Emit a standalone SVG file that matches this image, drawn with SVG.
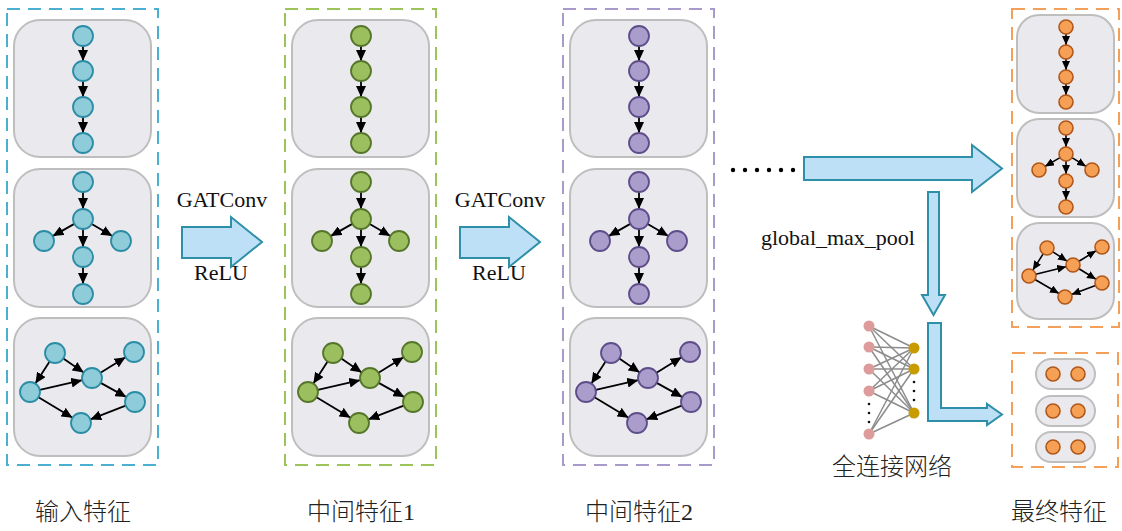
<svg xmlns="http://www.w3.org/2000/svg" xmlns:xlink="http://www.w3.org/1999/xlink" width="1122" height="531" viewBox="0 0 1122 531">
<style>
.panel{fill:#EAE9EE;stroke:#BEBEBE;stroke-width:2}
.dash{fill:none;stroke-width:2;stroke-dasharray:13 8}
.edge{stroke:#000;stroke-width:1.8;fill:none;marker-end:url(#ah)}
.edge2{stroke:#000;stroke-width:1.6;fill:none;marker-end:url(#ah2)}
.blue{fill:#8FCCDA;stroke:#2B8DA5;stroke-width:1.8}
.green{fill:#9BBF5E;stroke:#55762A;stroke-width:1.8}
.purple{fill:#AB9DCB;stroke:#5D4E8A;stroke-width:1.8}
.orange{fill:#F6A055;stroke:#B0571A;stroke-width:1.6}
.arrow{fill:#BDE0F7;stroke:#2E8FA8;stroke-width:2;stroke-linejoin:miter}
.lat{font-family:"Liberation Serif",serif;font-size:22px;fill:#111;text-anchor:middle}
.cjk{font-family:"Liberation Serif","Noto Sans CJK SC",sans-serif;font-size:24px;font-weight:300;fill:#222;text-anchor:middle}
.nn{stroke:#8C8C8C;stroke-width:1.5}
</style>
<defs>
<marker id="ah" markerUnits="userSpaceOnUse" markerWidth="11" markerHeight="10" refX="11" refY="5" orient="auto"><path d="M0,0 L11,5 L0,10 z" fill="#000"/></marker>
<marker id="ah2" markerUnits="userSpaceOnUse" markerWidth="9" markerHeight="8" refX="9" refY="4" orient="auto"><path d="M0,0 L9,4 L0,8 z" fill="#000"/></marker>
<g id="colNodes">
<circle cx="83" cy="36" r="10"/><circle cx="83" cy="71" r="10"/><circle cx="83" cy="107" r="10"/><circle cx="83" cy="143" r="10"/>
<circle cx="83" cy="182" r="10"/><circle cx="83" cy="219" r="10"/><circle cx="44" cy="241" r="10"/><circle cx="121" cy="241" r="10"/><circle cx="83" cy="257" r="10"/><circle cx="83" cy="294" r="10"/>
<circle cx="55" cy="353" r="10"/><circle cx="134" cy="352" r="10"/><circle cx="92" cy="378" r="10"/><circle cx="30" cy="392" r="10"/><circle cx="135" cy="402" r="10"/><circle cx="81" cy="423" r="10"/>
</g>
<g id="colEdges">
<line class="edge" x1="83" y1="46" x2="83" y2="61"/><line class="edge" x1="83" y1="81" x2="83" y2="97"/><line class="edge" x1="83" y1="117" x2="83" y2="133"/>
<line class="edge" x1="83" y1="192" x2="83" y2="209"/><line class="edge" x1="74.3" y1="223.9" x2="52.7" y2="236.1"/><line class="edge" x1="91.7" y1="223.9" x2="112.3" y2="236.1"/><line class="edge" x1="83" y1="229" x2="83" y2="247"/><line class="edge" x1="83" y1="267" x2="83" y2="284"/>
<line class="edge" x1="49.6" y1="361.4" x2="35.4" y2="383.6"/><line class="edge" x1="63.3" y1="358.6" x2="83.7" y2="372.4"/><line class="edge" x1="39.8" y1="389.8" x2="82.2" y2="380.2"/><line class="edge" x1="100.5" y1="372.7" x2="125.5" y2="357.3"/><line class="edge" x1="100.7" y1="382.9" x2="126.3" y2="397.1"/><line class="edge" x1="38.5" y1="397.2" x2="72.5" y2="417.8"/><line class="edge" x1="125.7" y1="405.6" x2="90.3" y2="419.4"/>
</g>
<g id="colPanels">
<rect class="panel" x="14" y="20" width="137" height="137" rx="26"/>
<rect class="panel" x="14" y="169" width="137" height="138" rx="26"/>
<rect class="panel" x="14" y="318" width="137" height="138" rx="26"/>
</g>
</defs>

<g id="col-input">
<rect class="dash" x="7" y="9" width="151" height="456" stroke="#4AAFD0"/>
<use xlink:href="#colPanels"/>
<use xlink:href="#colEdges"/>
<use xlink:href="#colNodes" class="blue"/>
<text class="cjk" x="83" y="520">输入特征</text>
</g>
<g id="col-mid1" transform="translate(278,0)">
<rect class="dash" x="7" y="9" width="151" height="456" stroke="#9DC45A"/>
<use xlink:href="#colPanels"/>
<use xlink:href="#colEdges"/>
<use xlink:href="#colNodes" class="green"/>
<text class="cjk" x="83" y="520">中间特征1</text>
</g>
<g id="col-mid2" transform="translate(556,0)">
<rect class="dash" x="7" y="9" width="151" height="456" stroke="#A89BC9"/>
<use xlink:href="#colPanels"/>
<use xlink:href="#colEdges"/>
<use xlink:href="#colNodes" class="purple"/>
<text class="cjk" x="83" y="520">中间特征2</text>
</g>

<g id="col-final">
<rect class="dash" x="1012" y="9" width="107" height="318" stroke="#F5A05A"/>
<rect class="panel" x="1017" y="15" width="97" height="98" rx="22"/>
<rect class="panel" x="1017" y="119" width="97" height="98" rx="22"/>
<rect class="panel" x="1017" y="223" width="97" height="96" rx="22"/>
<g id="final-edges">
<line class="edge2" x1="1066" y1="34" x2="1066" y2="45"/><line class="edge2" x1="1066" y1="59" x2="1066" y2="70"/><line class="edge2" x1="1066" y1="84" x2="1066" y2="95"/>
<line class="edge2" x1="1066" y1="135" x2="1066" y2="147"/><line class="edge2" x1="1060" y1="157.6" x2="1045" y2="166.4"/><line class="edge2" x1="1072" y1="157.6" x2="1086" y2="166.4"/><line class="edge2" x1="1066" y1="161" x2="1066" y2="174"/><line class="edge2" x1="1066" y1="188" x2="1066" y2="200"/>
<line class="edge2" x1="1043.2" y1="253.9" x2="1032.8" y2="270.1"/><line class="edge2" x1="1052.9" y1="251.8" x2="1067.1" y2="261.2"/><line class="edge2" x1="1035.8" y1="274.3" x2="1066.2" y2="266.7"/><line class="edge2" x1="1079" y1="261.3" x2="1096" y2="250.7"/><line class="edge2" x1="1079" y1="268.7" x2="1096" y2="279.3"/><line class="edge2" x1="1035" y1="279.5" x2="1059" y2="293.5"/><line class="edge2" x1="1095.5" y1="285.5" x2="1071.5" y2="294.5"/>
</g>
<g class="orange">
<circle cx="1066" cy="27" r="7"/><circle cx="1066" cy="52" r="7"/><circle cx="1066" cy="77" r="7"/><circle cx="1066" cy="102" r="7"/>
<circle cx="1066" cy="128" r="7"/><circle cx="1066" cy="154" r="7"/><circle cx="1039" cy="170" r="7"/><circle cx="1092" cy="170" r="7"/><circle cx="1066" cy="181" r="7"/><circle cx="1066" cy="207" r="7"/>
<circle cx="1047" cy="248" r="7"/><circle cx="1102" cy="247" r="7"/><circle cx="1073" cy="265" r="7"/><circle cx="1029" cy="276" r="7"/><circle cx="1102" cy="283" r="7"/><circle cx="1065" cy="297" r="7"/>
</g>
</g>

<g id="final-vectors">
<rect class="dash" x="1012" y="353" width="106" height="114" stroke="#F5A05A"/>
<rect class="panel" x="1036" y="359" width="59" height="30" rx="15"/>
<rect class="panel" x="1036" y="396" width="59" height="30" rx="15"/>
<rect class="panel" x="1036" y="432" width="59" height="30" rx="15"/>
<g class="orange">
<circle cx="1053" cy="374" r="7"/><circle cx="1078" cy="374" r="7"/>
<circle cx="1053" cy="411" r="7"/><circle cx="1078" cy="411" r="7"/>
<circle cx="1053" cy="447" r="7"/><circle cx="1078" cy="447" r="7"/>
</g>
<text class="cjk" x="1059" y="520">最终特征</text>
</g>

<g id="fc-net">
<g class="nn">
<line x1="869" y1="326" x2="914" y2="348"/><line x1="869" y1="326" x2="914" y2="369"/><line x1="869" y1="326" x2="914" y2="413"/>
<line x1="869" y1="347" x2="914" y2="348"/><line x1="869" y1="347" x2="914" y2="369"/><line x1="869" y1="347" x2="914" y2="413"/>
<line x1="869" y1="369" x2="914" y2="348"/><line x1="869" y1="369" x2="914" y2="369"/><line x1="869" y1="369" x2="914" y2="413"/>
<line x1="869" y1="391" x2="914" y2="348"/><line x1="869" y1="391" x2="914" y2="369"/><line x1="869" y1="391" x2="914" y2="413"/>
<line x1="869" y1="434" x2="914" y2="348"/><line x1="869" y1="434" x2="914" y2="369"/><line x1="869" y1="434" x2="914" y2="413"/>
</g>
<g fill="#DE9B9B">
<circle cx="869" cy="326" r="5.5"/><circle cx="869" cy="347" r="5.5"/><circle cx="869" cy="369" r="5.5"/><circle cx="869" cy="391" r="5.5"/><circle cx="869" cy="434" r="5.5"/>
</g>
<g fill="#C89B00">
<circle cx="914" cy="348" r="5.5"/><circle cx="914" cy="369" r="5.5"/><circle cx="914" cy="413" r="5.5"/>
</g>
<g fill="#111">
<circle cx="869" cy="404" r="1.3"/><circle cx="869" cy="413" r="1.3"/><circle cx="869" cy="422" r="1.3"/>
<circle cx="914" cy="382" r="1.3"/><circle cx="914" cy="391" r="1.3"/><circle cx="914" cy="400" r="1.3"/>
</g>
<text class="cjk" x="892" y="475" font-size="22">全连接网络</text>
</g>

<g id="connectors">
<polygon class="arrow" points="182,227 231,227 231,217 262,242 231,267 231,258 182,258"/>
<polygon class="arrow" points="460,227 509,227 509,217 540,242 509,267 509,258 460,258"/>
<polygon class="arrow" points="804,157 972,157 972,145 1002,168.5 972,192 972,180 804,180"/>
<polygon class="arrow" points="928,192 939,192 939,295 945,295 933.5,315 922,295 928,295"/>
<polygon class="arrow" points="928,323 941,323 941,408 987,408 987,404 1002,414.5 987,425 987,421 928,421"/>
<g fill="#000">
<circle cx="733" cy="170" r="2.2"/><circle cx="745" cy="170" r="2.2"/><circle cx="757" cy="170" r="2.2"/><circle cx="769" cy="170" r="2.2"/><circle cx="781" cy="170" r="2.2"/><circle cx="793" cy="170" r="2.2"/>
</g>
</g>

<g id="labels">
<text class="lat" x="222" y="207">GATConv</text>
<text class="lat" x="221" y="280">ReLU</text>
<text class="lat" x="500" y="207">GATConv</text>
<text class="lat" x="499" y="280">ReLU</text>
<text class="lat" x="838" y="245">global_max_pool</text>
</g>
</svg>
